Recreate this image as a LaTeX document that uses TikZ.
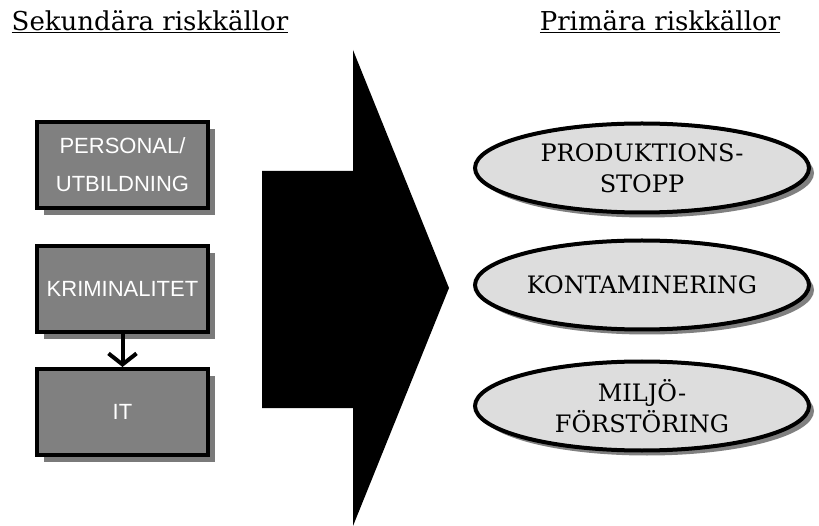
\documentclass[tikz,border=0pt]{standalone}
\usepackage{fontspec}
\setmainfont{DejaVu Serif}
\newfontfamily\boxfont{Liberation Sans}
\usetikzlibrary{arrows.meta,shapes.geometric,shadows}
\definecolor{boxgray}{HTML}{808080}
\definecolor{shadowgray}{HTML}{7A7A7A}
\definecolor{ovalgray}{HTML}{DDDDDD}
\begin{document}
\begin{tikzpicture}[x=1pt,y=-1pt,
  riskbox/.style={draw=black, line width=4pt, fill=boxgray, text=white,
    font=\boxfont\fontsize{22}{38}\selectfont, align=center, inner sep=0pt,
    minimum width=171pt, minimum height=86pt,
    drop shadow={shadow xshift=7pt, shadow yshift=-7pt, fill=shadowgray, opacity=1}},
  riskoval/.style={ellipse, draw=black, line width=4pt, fill=ovalgray,
    font=\fontsize{24}{31}\selectfont, align=center, inner sep=0pt,
    minimum width=334pt, minimum height=89pt,
    drop shadow={shadow xshift=5pt, shadow yshift=-5pt, fill=boxgray, opacity=1}},
  heading/.style={font=\fontsize{26}{30}\selectfont, inner sep=0pt},
  link/.style={line width=4pt, -{Straight Barb[length=11pt, width=28pt]}}
]
\useasboundingbox (0,0) rectangle (819,526);

% column headings
\node[heading] (sek) at (150,22) {\underline{Sekundära riskkällor}};
\node[heading] (prim) at (660,22) {\underline{Primära riskkällor}};

% large block arrow in the middle
\fill[black] (262,171) -- (353,171) -- (353,50) -- (449,288) -- (353,526)
  -- (353,408) -- (262,408) -- cycle;

% secondary sources
\node[riskbox] (pers) at (122.5,165) {PERSONAL/\\UTBILDNING};
\node[riskbox] (krim) at (122.5,289) {KRIMINALITET};
\node[riskbox] (it) at (122.5,412) {IT};
\draw[link] (krim.south) -- (it.north);

% primary sources
\node[riskoval] (prod) at (642,168) {PRODUKTIONS-\\STOPP};
\node[riskoval] (kont) at (642,285) {KONTAMINERING};
\node[riskoval] (milj) at (642,406) {MILJÖ-\\FÖRSTÖRING};
\end{tikzpicture}
\end{document}
